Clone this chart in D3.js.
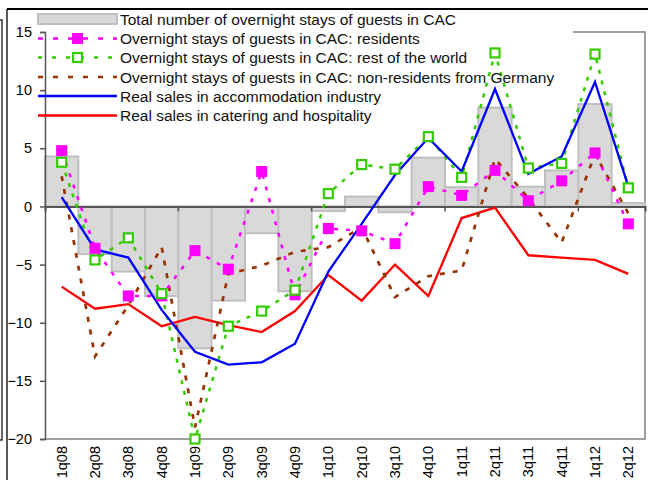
<!DOCTYPE html>
<html><head><meta charset="utf-8">
<script src="https://cdn.jsdelivr.net/npm/d3@7/dist/d3.min.js"></script>
<style>body{margin:0;background:#fff}svg{display:block;font-family:"Liberation Sans",Arial,sans-serif}</style>
</head><body><svg id="c" width="648" height="480"></svg>
<script>
const categories = ["1q08","2q08","3q08","4q08","1q09","2q09","3q09","4q09","1q10","2q10","3q10","4q10","1q11","2q11","3q11","4q11","1q12","2q12"];
const totalStays = [4.3,-4.1,-5.6,-7.7,-12.2,-8.1,-2.3,-7.3,-0.4,0.85,-0.5,4.2,1.65,8.5,1.7,3.1,8.8,0.3];
const residents = [4.8,-3.6,-7.7,-7.7,-3.8,-5.4,3.0,-7.6,-1.9,-2.1,-3.2,1.7,0.95,3.1,0.5,2.2,4.6,-1.5];
const restOfWorld = [3.8,-4.6,-2.7,-7.5,-20.0,-10.3,-9.0,-7.2,1.1,3.6,3.2,6.0,2.5,13.2,3.3,3.7,13.1,1.6];
const germany = [2.6,-12.9,-8.5,-3.5,-19.0,-5.8,-5.1,-3.9,-3.5,-1.8,-7.8,-6.0,-5.5,4.1,0.7,-3.1,4.5,-0.6];
const accommodation = [0.8,-3.7,-4.4,-8.9,-12.5,-13.6,-13.4,-11.8,-5.6,-1.5,2.7,5.9,3.0,10.1,2.8,4.3,10.7,1.7];
const catering = [-6.9,-8.8,-8.4,-10.3,-9.5,-10.2,-10.8,-9.0,-5.9,-8.1,-5.0,-7.7,-1.0,-0.1,-4.2,-4.4,-4.6,-5.8];
const yTicks = [-20,-15,-10,-5,0,5,10,15];
const legendLabels = ["Total number of overnight stays of guests in CAC","Overnight stays of guests in CAC: residents","Overnight stays of guests in CAC: rest of the world","Overnight stays of guests in CAC: non-residents from Germany","Real sales in accommodation industry","Real sales in catering and hospitality"];

const svg = d3.select("#c");
const L=45, R=645, T=32, B=439;
const x = d3.scaleBand().domain(categories).range([L,R]).padding(0);
const y = d3.scaleLinear().domain([-20,15]).range([B,T]);
const cx = d => x(d)+x.bandwidth()/2;

// outer frames
svg.append("line").attr("x1",7).attr("x2",648).attr("y1",9).attr("y2",9).attr("stroke","#000").attr("stroke-width",2);
svg.append("line").attr("x1",7).attr("x2",7).attr("y1",9).attr("y2",480).attr("stroke","#222").attr("stroke-width",1.5);
svg.append("path").attr("d","M0,20H2V440H0").attr("fill","none").attr("stroke","#333").attr("stroke-width",1.5);

// plot frame
svg.append("path").attr("d",`M573,${T}H${R}V${B}H${L}`).attr("fill","none").attr("stroke","#808080").attr("stroke-width",1.5);

// bars
svg.append("g").selectAll("rect").data(categories).join("rect")
  .attr("x",d=>x(d)).attr("width",x.bandwidth())
  .attr("y",(d,i)=>y(Math.max(0,totalStays[i])))
  .attr("height",(d,i)=>Math.abs(y(totalStays[i])-y(0)))
  .attr("fill","#d9d9d9").attr("stroke","#bfbfbf").attr("stroke-width",2);

// y axis
const ya = svg.append("g").attr("transform",`translate(${L},0)`)
  .call(d3.axisLeft(y).tickValues(yTicks).tickSize(5).tickPadding(8));
ya.select(".domain").attr("stroke","#555").attr("stroke-width",1.5);
ya.selectAll(".tick line").attr("stroke","#555").attr("stroke-width",1.5);
ya.selectAll(".tick text").attr("font-size",14.5).attr("fill","#000").attr("font-family","Liberation Sans, Arial, sans-serif");

// zero axis with ticks every 4 categories
const xa = svg.append("g").attr("transform",`translate(0,${y(0)})`)
  .call(d3.axisBottom(x).tickValues(categories.filter((d,i)=>i%4===0&&i>0)).tickSize(5).tickFormat(""));
xa.select(".domain").attr("stroke","#555").attr("stroke-width",2);
xa.selectAll(".tick line").attr("stroke","#555").attr("stroke-width",1.5)
  .attr("transform",`translate(${-x.bandwidth()/2},0)`);

// x labels
svg.append("g").selectAll("text").data(categories).join("text")
  .attr("transform",d=>`translate(${cx(d)},446) rotate(-90)`)
  .attr("text-anchor","end").attr("dy","0.35em").attr("font-size",14.5).text(d=>d);

// lines
const line = vals => d3.line().x((d,i)=>cx(categories[i])).y(d=>y(d))(vals);
svg.append("path").attr("d",line(catering)).attr("fill","none").attr("stroke","#ff0000").attr("stroke-width",2.3);
svg.append("path").attr("d",line(germany)).attr("fill","none").attr("stroke","#993300").attr("stroke-width",2.7).attr("stroke-dasharray","5,8");
svg.append("path").attr("d",line(residents)).attr("fill","none").attr("stroke","#ff00ff").attr("stroke-width",2.5).attr("stroke-dasharray","4,8");
svg.append("path").attr("d",line(restOfWorld)).attr("fill","none").attr("stroke","#33cc00").attr("stroke-width",2.5).attr("stroke-dasharray","4,7");
svg.append("path").attr("d",line(accommodation)).attr("fill","none").attr("stroke","#0000ff").attr("stroke-width",2.3);

// markers
svg.append("g").selectAll("rect").data(residents).join("rect")
  .attr("x",(d,i)=>cx(categories[i])-5.5).attr("y",d=>y(d)-5.5).attr("width",11).attr("height",11).attr("fill","#ff00ff");
svg.append("g").selectAll("rect").data(restOfWorld).join("rect")
  .attr("x",(d,i)=>cx(categories[i])-4.5).attr("y",d=>y(d)-4.5).attr("width",9).attr("height",9)
  .attr("fill","#fff").attr("stroke","#33cc00").attr("stroke-width",2.2);

// legend
const lg = svg.append("g");
const rowY = [19,38.5,57.5,77,96,115.5];
const lx1=38, lx2=117;
lg.append("rect").attr("x",lx1).attr("y",rowY[0]-5).attr("width",lx2-lx1).attr("height",10).attr("fill","#d9d9d9").attr("stroke","#bfbfbf").attr("stroke-width",2);
const styles = [null,
  {c:"#ff00ff",w:2.5,da:"5,10",m:"fill"},
  {c:"#33cc00",w:2.5,da:"4,10",m:"open"},
  {c:"#993300",w:2.7,da:"5,10"},
  {c:"#0000ff",w:2.3},
  {c:"#ff0000",w:2.3}];
styles.forEach((s,i)=>{
  if(!s) return;
  lg.append("line").attr("x1",lx1).attr("x2",lx2).attr("y1",rowY[i]).attr("y2",rowY[i]).attr("stroke",s.c).attr("stroke-width",s.w).attr("stroke-dasharray",s.da||null);
  const mx=(lx1+lx2)/2;
  if(s.m==="fill") lg.append("rect").attr("x",mx-5.5).attr("y",rowY[i]-5.5).attr("width",11).attr("height",11).attr("fill",s.c);
  if(s.m==="open") lg.append("rect").attr("x",mx-4.5).attr("y",rowY[i]-4.5).attr("width",9).attr("height",9).attr("fill","#fff").attr("stroke",s.c).attr("stroke-width",2.2);
});
lg.selectAll("text").data(legendLabels).join("text")
  .attr("x",120).attr("y",(d,i)=>rowY[i]).attr("dy","0.36em").attr("font-size",15.5).attr("fill","#111").text(d=>d);
</script></body></html>
